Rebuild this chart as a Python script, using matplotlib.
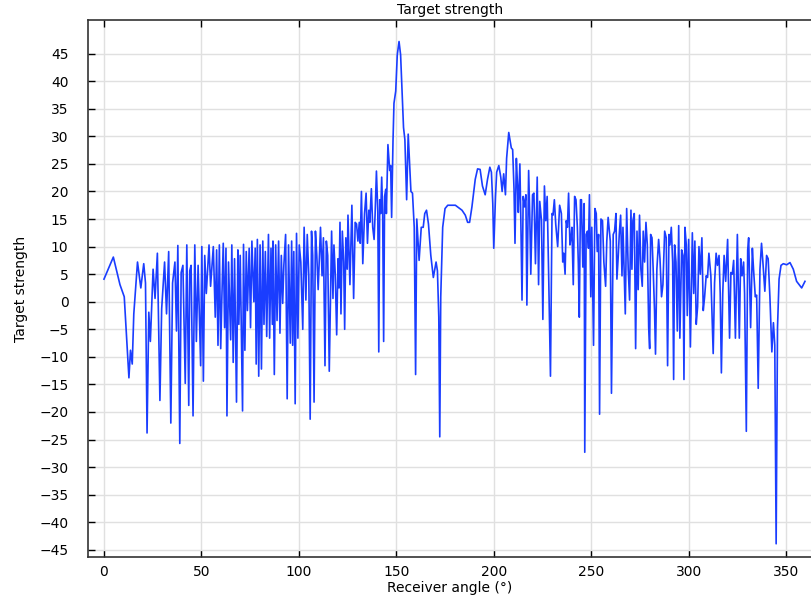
import matplotlib.pyplot as plt

# Receiver angle (deg) and target strength (peaks / troughs)
angle = [
    0.0, 4.8, 8.2, 10.4, 12.8, 13.6, 14.5, 15.3, 17.2, 18.9, 20.4, 21.3, 22.1, 23.0, 23.8,
    25.2, 26.2, 27.4, 28.7, 29.6, 31.1, 32.1, 33.2, 34.3, 35.2, 36.4, 37.2, 37.9, 38.9,
    39.6, 40.5, 41.7, 42.5, 43.5, 44.0, 44.7, 45.7, 46.6, 47.4, 48.3, 49.6, 50.2, 51.0,
    51.7, 52.5, 53.9, 54.7,
    56.1, 57.1, 57.8, 58.5, 59.2, 59.9, 60.5, 61.2, 61.9, 62.6, 63.1, 63.9, 65.0, 65.6,
    66.3, 67.0, 68.0, 68.7, 69.2, 69.9, 71.1, 71.6, 72.3, 73.0, 73.6, 74.5, 75.2, 75.9,
    76.9, 77.6, 78.1, 78.7, 79.4, 80.1, 80.8, 81.5, 82.1, 82.8, 83.5, 84.4, 85.0, 85.7,
    86.4, 86.7, 87.4, 88.1, 88.8, 89.6, 90.3, 91.0, 91.7, 92.3, 93.2, 94.0, 94.7, 95.6,
    96.3, 96.8, 97.4, 98.1, 98.8, 99.5, 100.2, 101.0, 102.0, 102.7, 103.6, 104.3, 105.1,
    105.8, 106.5, 107.1, 107.8, 108.5, 109.2, 109.9, 111.1, 111.9, 112.6, 113.4, 114.1,
    114.8, 115.6,
    116.8, 117.5, 118.0, 118.7, 119.4, 120.1, 120.6, 121.1, 121.6, 122.3, 123.0, 123.5,
    124.1, 124.8, 125.2, 126.2, 127.2, 128.1, 128.9, 129.6, 130.3, 131.0, 131.5, 132.1,
    132.8, 133.7, 134.5, 135.2, 135.9, 136.4, 137.2, 137.9, 138.6, 139.1, 139.8, 140.5,
    141.0, 141.5, 142.0, 142.5, 143.0, 143.5, 144.0, 144.6, 144.9, 145.7, 146.6, 147.1,
    147.6, 148.3, 148.8, 149.7, 150.5, 151.4, 152.2, 153.1, 153.7, 154.4, 155.3, 156.1,
    156.8, 157.5, 158.3, 159.2, 159.9, 160.5, 161.7, 162.8, 163.8, 164.6, 165.5, 166.5,
    167.7, 169.0, 170.4, 171.1, 171.8, 172.3, 172.8, 173.8, 175.0, 176.4,
    180.3, 183.7, 185.4, 186.6, 187.6, 188.8, 190.5, 191.7, 193.0, 194.2, 195.6, 196.8,
    198.0, 198.8, 199.5, 200.0, 200.9, 201.5, 202.6, 203.6, 204.3, 205.1, 206.0, 206.6,
    207.7, 208.3, 209.0, 209.7, 210.4, 210.9, 211.6, 212.2, 212.6, 213.4, 213.9, 214.5,
    215.1, 215.8, 216.5, 217.0, 217.9, 218.5, 219.0, 219.9, 220.6, 221.4, 222.3, 223.0,
    223.6, 224.5, 225.2, 226.0, 226.7, 227.4, 228.2, 229.1, 229.9, 230.4, 231.1, 231.8,
    232.8, 233.8, 234.7, 235.4, 235.9, 236.6, 237.2, 237.8, 238.4, 239.1, 239.8, 240.1,
    240.8, 241.5, 242.2, 242.9, 243.4, 243.9,
    244.5, 245.0, 245.7, 246.4, 246.7, 247.4, 248.1, 248.6, 249.1, 249.8, 250.3, 251.2,
    251.9, 252.6, 253.1, 253.8, 254.3, 255.0, 255.8, 256.5, 257.4, 258.0, 258.7, 259.8,
    260.4, 261.3, 262.0, 262.7, 263.2, 263.9, 264.4, 265.1, 265.8, 266.3, 266.8, 267.5,
    268.2, 269.0, 269.7, 270.4, 270.9, 271.4, 272.1, 272.8, 273.5, 274.1, 274.8, 275.5,
    276.2, 276.7, 277.4, 278.1, 278.8, 279.5, 280.0, 280.5, 281.2, 281.8, 282.5, 283.0,
    283.7, 284.6, 285.3, 286.1, 286.8, 287.7, 288.5, 289.2, 289.9, 290.4, 291.1, 291.8,
    292.3, 292.8, 293.5, 294.2, 294.9, 295.5, 296.4, 297.1, 297.6, 298.1, 298.8, 299.3,
    300.0, 300.9,
    301.9, 302.6, 303.2, 303.9, 304.6, 305.3, 306.0, 306.8, 307.5, 308.2, 309.0, 309.7,
    310.4, 311.4, 312.6, 313.3, 314.1, 314.8, 315.6, 316.2, 316.8, 317.5, 318.2, 319.0,
    320.0, 321.0, 321.7, 322.4, 323.1, 324.0, 325.0, 326.0, 326.7, 327.4, 328.2, 328.7,
    329.6, 330.3, 330.8, 331.8, 332.7, 333.3, 334.2, 334.9, 335.7, 336.6, 337.4, 338.1,
    339.1, 340.0, 340.8, 341.7, 342.7, 343.5, 344.2, 344.9, 345.6, 346.4, 347.4, 348.6,
    350.3, 352.0, 353.7, 355.4, 358.0, 359.7,
]

strength = [
    4.1, 8.1, 3.1, 0.9, -13.8, -8.8, -11.3, -2.2, 7.2, 2.5, 6.9, 3.4, -23.8, -1.9, -7.2,
    5.9, 0.6, 8.8, -17.9, -1.3, 7.2, -2.2, 9.1, -22.0, 3.4, 7.2, -5.3, 10.2, -25.7,
    5.3, 6.6, -14.8, 10.3, -18.8, 5.6, 6.6, -20.7, 10.3, -7.2, 6.6, -11.6, 10.0, -14.4,
    8.4, 1.5, 10.3, 2.8,
    10.0, -2.8, 9.4, -7.9, 10.3, -8.5, 0.9, 10.6, -4.7, 9.7, -20.7, 7.2, -6.9, 10.3,
    -11.0, 7.8, -18.2, 9.4, -4.1, 8.4, -19.8, 10.4, -8.8, 9.1, -1.6, 9.7, -4.7, 11.0,
    0.0, 9.7, -11.3, 11.3, -13.5, 10.3, -12.2, 11.0, -4.1, 9.1, -6.3, 12.2, -6.6, 9.7,
    -4.1, 11.0, -13.2, 10.3, -3.4, 11.0, -5.7, 8.4, -0.3, 6.6, 12.2, -17.6, 10.3, -7.5,
    11.0, -7.9, 9.1, -18.5, 12.4, -6.6, 10.3, 7.2, -5.0, 13.5, 0.3, 12.2, 4.7,
    -21.3, 12.8, 8.4, -18.2, 12.8, 8.4, 2.2, 13.5, 4.7, 11.6, -11.6, 11.0,
    8.4, -12.6,
    12.8, 0.6, 10.3, 4.7, -6.0, 7.8, 2.5, 14.4, -2.2, 12.8, 7.2, -5.0,
    11.6, 5.9, 15.7, 3.1, 17.5, 0.6, 14.4, 14.1, 11.0, 14.4, 10.6, 20.0,
    6.9, 16.0, 19.7, 10.6, 16.6, 14.4, 20.5, 13.5, 11.3, 15.7, 23.7, 16.3,
    -9.1, 18.5, 16.0, 22.6, 16.0, -7.2, 19.1, 20.4, 16.0, 28.5, 23.8, 24.7,
    15.3, 29.1, 36.0, 38.2, 44.8, 47.2, 44.8, 36.7, 31.6, 29.4, 18.5, 30.4,
    25.4, 20.0, 19.7, 13.5, -13.2, 15.0, 7.5, 13.5, 13.5, 16.0, 16.6, 14.1,
    8.4, 4.4, 7.2, 5.6, -2.8, -24.5, 0.9, 13.5, 16.9, 17.5,
    17.5, 16.6, 15.7, 14.4, 14.4, 17.2, 22.2, 24.1, 24.0, 21.0, 19.4, 22.2,
    24.4, 23.5, 17.8, 9.7, 19.1, 23.5, 24.7, 22.6, 20.0, 23.2, 19.4, 26.0,
    30.7, 29.4, 27.9, 27.6, 20.4, 10.6, 26.0, 21.0, 16.2, 25.0, 14.7, 0.3,
    19.1, 17.2, 19.4, -0.6, 23.8, 15.3, 5.0, 19.4, 19.7, 6.9, 22.6, 3.1,
    18.2, 14.7, -3.2, 21.0, 14.7, 19.1, 4.4, -13.5, 16.0, 15.7, 18.5, 14.1,
    10.0, 17.5, 16.0, 7.2, 8.8, 5.0, 14.7, 13.5, 19.7, 10.3, 12.2, 13.5,
    3.1, 19.1, 18.5, 13.5, 6.9, -2.8,
    18.5, 18.5, 6.3, 17.8, -27.3, 12.2, 12.8, 9.7, 19.4, 0.9, 13.5, -7.9,
    16.9, 16.0, 9.1, 12.2, -20.4, 15.0, 14.7, 7.2, 2.8, 11.0, 15.3, 11.0,
    -16.6, 12.2, 12.8, 16.0, 4.1, 8.4, 12.2, 15.7, 4.7, 13.5, 7.2, -2.2,
    16.9, 5.9, 0.3, 16.6, 5.9, 14.7, 16.0, -8.5, 12.8, 2.2, 15.7, 5.9,
    2.8, 12.8, 7.2, 14.4, 10.3, -4.7, -8.5, 12.2, 11.6, 5.9, -1.6, -9.5,
    5.9, 11.3, 7.8, 0.9, 3.1, 12.8, 11.6, -11.6, 12.2, 10.3, 13.5, 7.2,
    -14.1, 10.3, 7.2, -5.3, 13.8, -6.6, 9.4, 8.4, -14.1, 13.5, 10.3, -2.5,
    11.3, -8.2,
    12.5, 1.5, 11.0, -4.1, -0.9, 10.0, 5.0, 11.6, -1.6, 0.9, 4.7, 4.4,
    8.8, 4.7, -9.4, 3.4, 8.8, 6.6, 8.4, 1.5, -12.9, 1.5, 8.4, 3.7,
    11.3, -6.6, 5.3, 5.0, 7.5, -6.6, 12.2, -6.6, 7.8, 4.7, 7.2, 1.5,
    -23.5, 9.4, 11.6, -4.7, 9.7, 5.9, 0.9, 1.2, -15.7, 5.9, 10.6, 7.2,
    1.9, 8.4, 7.8, 0.9, -9.1, -3.8, -7.9, -43.9, -4.7, 4.1, 6.6, 6.9,
    6.7, 7.1, 5.9, 3.7, 2.5, 3.7,
]

x_ticks = list(range(0, 351, 50))
y_ticks = list(range(-45, 46, 5))

fig = plt.figure(figsize=(8.12, 5.96), dpi=100)
ax = fig.add_axes([88 / 812, 39 / 596, 724 / 812, 537 / 596])

ax.plot(angle, strength, color='#1a3dff', linewidth=1.2)

ax.set_xlim(-8.2, 363.3)
ax.set_ylim(-46.3, 51.1)
ax.set_xticks(x_ticks)
ax.set_yticks(y_ticks)
ax.grid(True, color='#e0e0e0', linewidth=1.0)
ax.set_axisbelow(True)

ax.tick_params(axis='both', direction='in', length=5, width=1, labelsize=10, colors='black')
ax.tick_params(axis='x', top=True, pad=6)
ax.tick_params(axis='y', pad=14)
ax.spines['right'].set_visible(False)
for s in ['left', 'top', 'bottom']:
    ax.spines[s].set_linewidth(1.2)
    ax.spines[s].set_color('#333333')

ax.set_title('Target strength', fontsize=10, pad=4)
ax.set_xlabel('Receiver angle (°)', fontsize=10, labelpad=1)
ax.set_ylabel('Target strength', fontsize=10, labelpad=8)

fig.savefig('out.png', dpi=100)
